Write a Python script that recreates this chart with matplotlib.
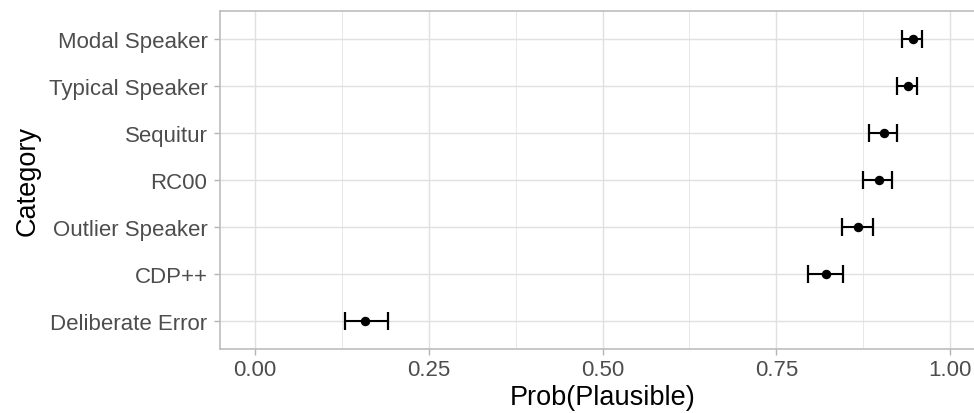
import matplotlib
matplotlib.use("Agg")
import matplotlib.pyplot as plt
import numpy as np

categories = ["Deliberate Error", "CDP++", "Outlier Speaker", "RC00",
              "Sequitur", "Typical Speaker", "Modal Speaker"]
means = [0.158, 0.822, 0.8675, 0.897, 0.905, 0.940, 0.947]
lower = [0.130, 0.795, 0.844, 0.875, 0.883, 0.9235, 0.931]
upper = [0.1915, 0.8455, 0.8885, 0.9165, 0.9235, 0.9525, 0.959]
xticks = [0.0, 0.25, 0.5, 0.75, 1.0]
xticklabels = ["0.00", "0.25", "0.50", "0.75", "1.00"]

plt.rcParams['font.family'] = ['Liberation Sans', 'DejaVu Sans']

W, H = 974, 414
fig = plt.figure(figsize=(W / 100, H / 100), dpi=100)
left, right, top, bottom = 220, 985, 12, 350
ax = fig.add_axes([left / W, 1 - bottom / H, (right - left) / W, (bottom - top) / H])

ypos = np.arange(1, len(categories) + 1)
means_a = np.array(means)
xerr = np.vstack([means_a - np.array(lower), np.array(upper) - means_a])

ax.set_xlim(-0.05, 1.05)
ax.set_ylim(0.4, len(categories) + 0.6)

# grid
for x in [0.125, 0.375, 0.625, 0.875]:
    ax.axvline(x, color="#E8E8E8", lw=0.7, zorder=0)
for x in xticks:
    ax.axvline(x, color="#E0E0E0", lw=1.0, zorder=0)
for y in ypos:
    ax.axhline(y, color="#E0E0E0", lw=1.0, zorder=0)

ax.errorbar(means, ypos, xerr=xerr, fmt="o", color="black", ecolor="black",
            elinewidth=1.5, capsize=6.4, capthick=1.6, markersize=5.8, zorder=3)

ax.set_yticks(ypos)
ax.set_yticklabels(categories)
ax.set_xticks(xticks)
ax.set_xticklabels(xticklabels)

for s in ax.spines.values():
    s.set_color("#BDBDBD")
    s.set_linewidth(1.2)

ax.tick_params(axis="both", colors="#B3B3B3", length=4, width=1.0,
               labelcolor="#4D4D4D", labelsize=16)
ax.tick_params(axis="y", pad=5)
ax.tick_params(axis="x", pad=3)

ax.set_xlabel("Prob(Plausible)", fontsize=19.5, color="black", labelpad=3)
ax.set_ylabel("Category", fontsize=19.5, color="black", labelpad=6)

fig.savefig("out.png", dpi=100, facecolor="white")
